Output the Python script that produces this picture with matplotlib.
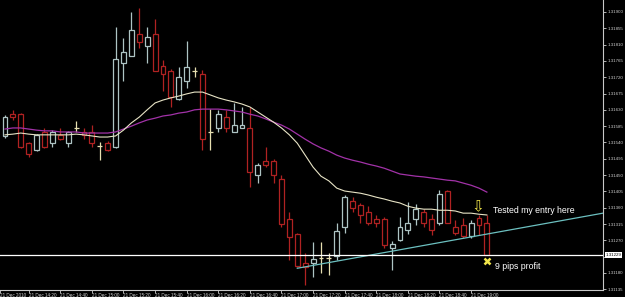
import matplotlib
matplotlib.use("Agg")
import matplotlib.pyplot as plt
from matplotlib.patches import Rectangle

# EURUSD-style M5 bars
opens = [1.31558, 1.31618, 1.31618, 1.31538, 1.31519, 1.31569, 1.31538, 1.31561, 1.31538, 1.31580,
         1.31569, 1.31569, 1.31530, 1.31538, 1.31527, 1.31759, 1.31779, 1.31839, 1.31806, 1.31839,
         1.31751, 1.31737, 1.31660, 1.31710, 1.31737, 1.31729, 1.31569, 1.31580, 1.31610, 1.31569,
         1.31580, 1.31580, 1.31450, 1.31489, 1.31489, 1.31439, 1.31329, 1.31287, 1.31207, 1.31207,
         1.31221, 1.31221, 1.31226, 1.31307, 1.31378, 1.31367, 1.31348, 1.31329, 1.31329, 1.31248,
         1.31271, 1.31298, 1.31329, 1.31348, 1.31329, 1.31318, 1.31406, 1.31307, 1.31312, 1.31282,
         1.31331, 1.31318]
highs = [1.31616, 1.31630, 1.31621, 1.31541, 1.31563, 1.31580, 1.31574, 1.31580, 1.31572, 1.31599,
         1.31580, 1.31588, 1.31541, 1.31544, 1.31859, 1.31828, 1.31900, 1.31911, 1.31859, 1.31881,
         1.31768, 1.31743, 1.31748, 1.31820, 1.31748, 1.31740, 1.31632, 1.31630, 1.31630, 1.31649,
         1.31638, 1.31638, 1.31483, 1.31527, 1.31494, 1.31450, 1.31348, 1.31290, 1.31235, 1.31265,
         1.31265, 1.31235, 1.31318, 1.31395, 1.31389, 1.31373, 1.31364, 1.31340, 1.31334, 1.31268,
         1.31334, 1.31375, 1.31370, 1.31356, 1.31342, 1.31409, 1.31409, 1.31326, 1.31331, 1.31326,
         1.31340, 1.31340]
lows = [1.31552, 1.31602, 1.31525, 1.31500, 1.31516, 1.31525, 1.31527, 1.31547, 1.31527, 1.31569,
        1.31549, 1.31527, 1.31491, 1.31516, 1.31524, 1.31710, 1.31779, 1.31801, 1.31759, 1.31737,
        1.31682, 1.31638, 1.31657, 1.31690, 1.31721, 1.31519, 1.31519, 1.31569, 1.31569, 1.31569,
        1.31580, 1.31417, 1.31428, 1.31472, 1.31428, 1.31307, 1.31215, 1.31196, 1.31146, 1.31168,
        1.31179, 1.31174, 1.31215, 1.31290, 1.31348, 1.31318, 1.31312, 1.31307, 1.31248, 1.31188,
        1.31268, 1.31287, 1.31312, 1.31307, 1.31284, 1.31312, 1.31318, 1.31284, 1.31276, 1.31276,
        1.31284, 1.31229]
closes = [1.31610, 1.31610, 1.31527, 1.31508, 1.31561, 1.31527, 1.31569, 1.31549, 1.31569, 1.31580,
          1.31561, 1.31538, 1.31530, 1.31519, 1.31770, 1.31790, 1.31850, 1.31817, 1.31831, 1.31737,
          1.31729, 1.31665, 1.31721, 1.31748, 1.31737, 1.31549, 1.31569, 1.31618, 1.31580, 1.31588,
          1.31588, 1.31458, 1.31478, 1.31478, 1.31450, 1.31315, 1.31279, 1.31199, 1.31196, 1.31218,
          1.31221, 1.31221, 1.31295, 1.31389, 1.31359, 1.31340, 1.31318, 1.31318, 1.31257, 1.31260,
          1.31307, 1.31318, 1.31356, 1.31318, 1.31298, 1.31398, 1.31318, 1.31290, 1.31282, 1.31318,
          1.31312, 1.31229]

# the two moving averages as they appear on the chart
ma_fast = [1.31561, 1.31563, 1.31566, 1.31563, 1.31561, 1.31561, 1.31561, 1.31561, 1.31561, 1.31563,
           1.31561, 1.31558, 1.31555, 1.31555, 1.31558, 1.31574, 1.31594, 1.31610, 1.31630, 1.31649,
           1.31657, 1.31663, 1.31668, 1.31674, 1.31679, 1.31679, 1.31671, 1.31663, 1.31657, 1.31652,
           1.31646, 1.31638, 1.31624, 1.31610, 1.31596, 1.31580, 1.31561, 1.31538, 1.31505, 1.31472,
           1.31447, 1.31434, 1.31414, 1.31406, 1.31403, 1.31400, 1.31395, 1.31389, 1.31384, 1.31378,
           1.31373, 1.31364, 1.31359, 1.31356, 1.31356, 1.31353, 1.31353, 1.31351, 1.31345, 1.31345,
           1.31342, 1.31340]
ma_slow = [1.31577, 1.31580, 1.31580, 1.31577, 1.31574, 1.31572, 1.31572, 1.31569, 1.31569, 1.31569,
           1.31566, 1.31566, 1.31566, 1.31566, 1.31569, 1.31577, 1.31585, 1.31594, 1.31602, 1.31607,
           1.31613, 1.31616, 1.31621, 1.31624, 1.31630, 1.31632, 1.31632, 1.31632, 1.31630, 1.31627,
           1.31624, 1.31618, 1.31613, 1.31605, 1.31596, 1.31588, 1.31577, 1.31563, 1.31549, 1.31536,
           1.31525, 1.31516, 1.31505, 1.31497, 1.31491, 1.31486, 1.31480, 1.31475, 1.31469, 1.31461,
           1.31453, 1.31450, 1.31447, 1.31445, 1.31442, 1.31439, 1.31436, 1.31434, 1.31428, 1.31422,
           1.31414, 1.31403]

# hand-drawn support line (bar index, price) and the bid line
trend_bars = [37, 75.7]
trend_prices = [1.31193, 1.31345]
bid = 1.31229

price_ticks = [1.31135, 1.31180, 1.31225, 1.31270, 1.31315, 1.31360, 1.31405, 1.31450, 1.31495,
               1.31540, 1.31585, 1.31630, 1.31675, 1.31720, 1.31765, 1.31810, 1.31855, 1.31900]
time_bars = [-0.63, 3, 7, 11, 15, 19, 23, 27, 31, 35, 39, 43, 47, 51, 55, 59]
time_labels = ["21 Dec 2010", "21 Dec 14:20", "21 Dec 14:40", "21 Dec 15:00", "21 Dec 15:20",
               "21 Dec 15:40", "21 Dec 16:00", "21 Dec 16:20", "21 Dec 16:40", "21 Dec 17:00",
               "21 Dec 17:20", "21 Dec 17:40", "21 Dec 18:00", "21 Dec 18:20", "21 Dec 18:40",
               "21 Dec 19:00"]

BULL = "#aec4c4"
BEAR = "#b02222"
DOJI = "#e6dfb0"
SCALE_FONT = "Liberation Sans"

fig = plt.figure(figsize=(6.25, 2.97), dpi=100, facecolor="black")
ax = fig.add_axes([0, 1 - 290 / 297, 603 / 625, 290 / 297])
ax.set_facecolor("black")
ax.set_xlim(-0.63, 75.7)
ax.set_ylim(1.31133, 1.31933)

w = 0.62
for i, (o, h, l, c) in enumerate(zip(opens, highs, lows, closes)):
    if abs(c - o) < 0.00003:
        col = DOJI
    elif c > o:
        col = BULL
    else:
        col = BEAR
    ax.vlines(i, l, h, color=col, lw=0.9, zorder=2)
    lo, hi = min(o, c), max(o, c)
    if hi - lo < 0.00003:
        ax.hlines(o, i - w / 2, i + w / 2, color=col, lw=0.9, zorder=3)
    else:
        ax.add_patch(Rectangle((i - w / 2, lo), w, hi - lo, facecolor="black",
                               edgecolor=col, lw=0.9, zorder=3))

bars = range(len(closes))
ax.plot(bars, ma_slow, color="#a232a8", lw=0.9, zorder=4)
ax.plot(bars, ma_fast, color="#e8e4c6", lw=0.8, zorder=4)
ax.plot(trend_bars, trend_prices, color="#6cc0c0", lw=0.9, zorder=4)
ax.axhline(bid, color="white", lw=0.9, zorder=4)

# notes
ax.text(59.9, 1.31364, "\u21e9", color="#f2e64a", fontsize=11, ha="center", va="center", zorder=5)
ax.text(61.8, 1.31353, "Tested my entry here", color="white", fontsize=6.3,
        family="Liberation Sans", ha="left", va="center", zorder=5)
ax.plot([61.0], [1.31213], marker="x", color="#f2e64a", ms=4.5, mew=1.8, zorder=5)
ax.text(62.0, 1.31199, "9 pips profit", color="white", fontsize=6.3,
        family="Liberation Sans", ha="left", va="center", zorder=5)

# axes in terminal style
for s in ["left", "top"]:
    ax.spines[s].set_visible(False)
for s in ["right", "bottom"]:
    ax.spines[s].set_color("#c8c8c8")
    ax.spines[s].set_linewidth(0.8)

# the bid box covers the scale label at the same level
ax.yaxis.tick_right()
ax.set_yticks(price_ticks)
ax.set_yticklabels(["" if abs(p - bid) < 0.0002 else f"{p:.5f}" for p in price_ticks],
                   family=SCALE_FONT)
ax.tick_params(axis="y", colors="#d0d0d0", labelsize=3.2, length=2, width=0.6, pad=1)

ax.set_xticks(time_bars)
ax.set_xticklabels(time_labels, family=SCALE_FONT)
ax.tick_params(axis="x", colors="#d0d0d0", labelsize=3.3, length=2, width=0.6, pad=0.5)
for lab in ax.get_xticklabels():
    lab.set_ha("left")

# current price box on the scale
ax.text(1.004, bid, f"{bid:.5f}", transform=ax.get_yaxis_transform(), color="black",
        fontsize=3.2, family=SCALE_FONT, va="center", ha="left", zorder=6,
        bbox=dict(boxstyle="square,pad=0.2", facecolor="white", edgecolor="none"))

fig.savefig("out.png", dpi=100, facecolor="black")
